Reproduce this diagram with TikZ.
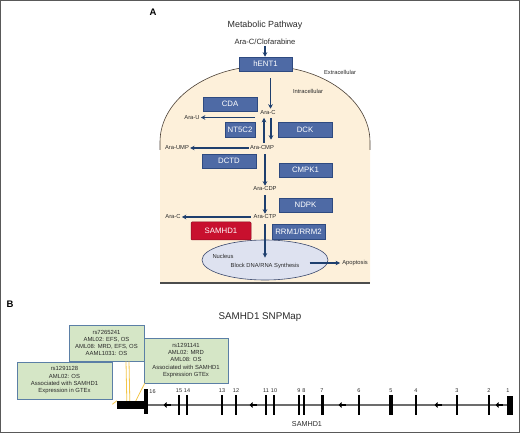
\documentclass[tikz,border=0pt]{standalone}
\usepackage{fontspec}
\setmainfont{Liberation Sans}
\usetikzlibrary{arrows.meta,shapes.geometric}
\definecolor{boxblue}{HTML}{4E6AA5}
\definecolor{boxedge}{HTML}{2E4A80}
\definecolor{navy}{HTML}{1E3F6E}
\definecolor{cellfill}{HTML}{FDF0DA}
\definecolor{celledge}{HTML}{4A3F35}
\definecolor{samred}{HTML}{C8102E}
\definecolor{nucfill}{HTML}{DEE2F0}
\definecolor{nucedge}{HTML}{3C4A6E}
\definecolor{greenfill}{HTML}{D5E6C6}
\definecolor{greenedge}{HTML}{5B7FA6}
\definecolor{snpyellow}{HTML}{F3C64A}
\definecolor{txt}{HTML}{2A2A2A}
\begin{document}
\begin{tikzpicture}[x=1pt,y=-1pt,
  enzyme/.style={rectangle, fill=boxblue, draw=boxedge, line width=0.5pt, text=white,
    font=\fontsize{7.8}{9}\selectfont, inner sep=0pt, minimum width=53pt, minimum height=14pt},
  lbl/.style={font=\fontsize{5.8}{7}\selectfont, inner sep=1pt, text=txt},
  arr/.style={draw=navy, line width=1.1pt, -{Stealth[length=4.5pt,width=4.5pt]}},
  snpbox/.style={rectangle, fill=greenfill, draw=greenedge, line width=0.6pt, text=txt,
    font=\fontsize{5.9}{7.3}\selectfont, align=center, inner sep=0pt},
  snpline/.style={draw=snpyellow, line width=0.8pt},
  exon/.style={rectangle, fill=black, inner sep=0pt, minimum height=20pt},
  exnum/.style={font=\fontsize{5.5}{6}\selectfont, inner sep=0pt, text=txt},
  marker/.style={line width=2.2pt, -{Triangle[length=3pt,width=5.5pt]}},
  panel/.style={font=\bfseries\fontsize{9.5}{11}\selectfont, inner sep=0pt}
]
\useasboundingbox (0,0) rectangle (520,433);
\draw[gray!70!black, line width=1pt] (0.5,0.5) rectangle (519.5,432.5);

% ---------- Panel A ----------
\node[panel] (pA) at (153,12) {A};
\node[font=\fontsize{8.9}{10}\selectfont, text=txt, inner sep=0pt] (title) at (265,25) {Metabolic Pathway};
\node[font=\fontsize{7.6}{9}\selectfont, text=txt, inner sep=1pt] (input) at (265,42) {Ara-C/Clofarabine};

% cell
\fill[cellfill] (160,283) -- (160,142) arc[start angle=180,end angle=0,x radius=105pt,y radius=76pt] -- (370,283) -- cycle;
\draw[celledge, line width=0.6pt] (160,150) -- (160,142) arc[start angle=180,end angle=0,x radius=105pt,y radius=76pt] -- (370,150);
\draw[gray!60!black, line width=1.2pt] (160,283) -- (370,283);

% nucleus
\node[ellipse, draw=nucedge, fill=nucfill, line width=0.6pt, minimum width=126pt, minimum height=40pt, inner sep=0pt] (nuc) at (265,260) {};
\node[lbl] (nucl) at (223,256) {Nucleus};
\node[lbl] (block) at (265,266.5) {Block DNA/RNA Synthesis};
\node[lbl] (apop) at (355,263) {Apoptosis};

% enzymes
\node[enzyme] (hent) at (265.5,64) {hENT1};
\node[enzyme, minimum width=54pt] (cda) at (230,104) {CDA};
\node[enzyme, minimum width=30pt, minimum height=15pt] (nt5) at (240,129.5) {NT5C2};
\node[enzyme, minimum width=54pt, minimum height=15pt] (dck) at (305,129.5) {DCK};
\node[enzyme, minimum width=54pt] (dctd) at (229,161) {DCTD};
\node[enzyme] (cmpk) at (305.5,170) {CMPK1};
\node[enzyme] (ndpk) at (305.5,205) {NDPK};
\node[enzyme, fill=samred, draw=samred!70!black, minimum width=60pt, minimum height=18pt, rounded corners=1pt] (sam) at (221,231) {SAMHD1};
\node[enzyme, minimum height=15pt] (rrm) at (298.5,232) {RRM1/RRM2};

% labels
\node[lbl] (extra) at (340,72) {Extracellular};
\node[lbl] (intra) at (308,91) {Intracellular};
\node[lbl] (araC) at (268,113) {Ara-C};
\node[lbl] (araU) at (192,117.5) {Ara-U};
\node[lbl] (araCMP) at (262,148) {Ara-CMP};
\node[lbl] (araUMP) at (177,148) {Ara-UMP};
\node[lbl] (araCDP) at (265,189) {Ara-CDP};
\node[lbl] (araCTP) at (265,217) {Ara-CTP};
\node[lbl] (araC2) at (173,217) {Ara-C};

% arrows
\draw[arr] (input.south) -- (input.south |- hent.north);
\draw[arr, shorten <=7pt, shorten >=1pt] ([xshift=5pt]hent.south) -- ([xshift=5pt]hent.south |- araC.north);
\draw[arr, shorten <=1.5pt, shorten >=5pt] ([xshift=3pt]araC.south) -- ([xshift=3pt]araC.south |- araCMP.north);
\draw[arr, shorten <=2pt, shorten >=1.5pt] ([xshift=-4pt]araCMP.north -| araC.south) -- ([xshift=-4pt]araC.south);
\draw[arr, shorten <=3pt] (araCMP.south -| araCDP.north) -- (araCDP.north);
\draw[arr, shorten <=3pt] (araCDP.south) -- (araCTP.north);
\draw[arr, shorten <=4pt, shorten >=5pt] (araCTP.south) -- (araCTP.south |- block.north);
\draw[arr, shorten <=4pt] (araC.west |- araU.east) -- (araU.east);
\draw[arr] (araCMP.west) -- (araUMP.east);
\draw[arr, shorten <=2pt] (araCTP.west) -- (araC2.east);
\draw[arr, shorten >=1pt] ([xshift=9pt]block.east |- apop.west) -- (apop.west);

% ---------- Panel B ----------
\node[panel] (pB) at (10,304) {B};
\node[font=\fontsize{9.8}{11}\selectfont, text=txt, inner sep=0pt] (title2) at (260,317) {SAMHD1 SNPMap};

% gene
\node[rectangle, fill=black, inner sep=0pt, minimum width=30pt, minimum height=8pt] (utr) at (132,405) {};
\node[exon, minimum width=6pt, minimum height=19pt] (ex1) at (510,405) {};
\draw[gray!85!black, line width=1.3pt] (utr.east) -- (ex1.west);
\node[exon, minimum width=4pt, minimum height=25pt] (ex16) at (146,401.5) {};
\node[exnum] (n16) at (152.5,392) {16};
\node[exnum] (n1) at (508,391) {1};
\foreach \x/\w/\n in {179/2/15, 187/2/14, 222/2/13, 236/2.5/12, 266/2/11, 274/1.2/10,
  299/2/9, 304/2/8, 322/3/7, 359/1.2/6, 391/3.5/5, 416/2.5/4, 457/2/3, 489/2.5/2}{
  \node[exon, minimum width=\w pt] (ex\n) at (\x,405) {};
  \node[exnum] (n\n) at (\x,391) {\n};
}
\foreach \x in {167,253,342,438,499}{
  \draw[marker] (\x+3.5,405) -- (\x-3.5,405);
}
\node[font=\fontsize{7.2}{8}\selectfont, text=txt, inner sep=0pt] (gname) at (307,424) {SAMHD1};

% SNP boxes
\node[snpbox, minimum width=95pt, minimum height=37pt] (snp1) at (64.5,380.5)
  {rs1291128\\AML02: OS\\Associated with SAMHD1\\Expression in GTEx};
\node[snpbox, minimum width=75pt, minimum height=36pt] (snp2) at (106.5,343)
  {rs7265241\\AML02: EFS, OS\\AML08: MRD, EFS, OS\\AAML1031: OS};
\node[snpbox, minimum width=84pt, minimum height=45pt] (snp3) at (186,360.5)
  {rs1291141\\AML02: MRD\\AML08: OS\\Associated with SAMHD1\\Expression GTEx};

\draw[snpline] ([yshift=-5pt]snp1.south east) -- (utr.north west);
\draw[snpline] ([xshift=19.5pt]snp2.south) -- ([xshift=10pt]utr.north west);
\draw[snpline] ([xshift=22.5pt]snp2.south) -- ([xshift=13pt]utr.north west);
\draw[snpline] ([xshift=1pt]snp3.south west) -- ([xshift=19pt]utr.north west);
\end{tikzpicture}
\end{document}
